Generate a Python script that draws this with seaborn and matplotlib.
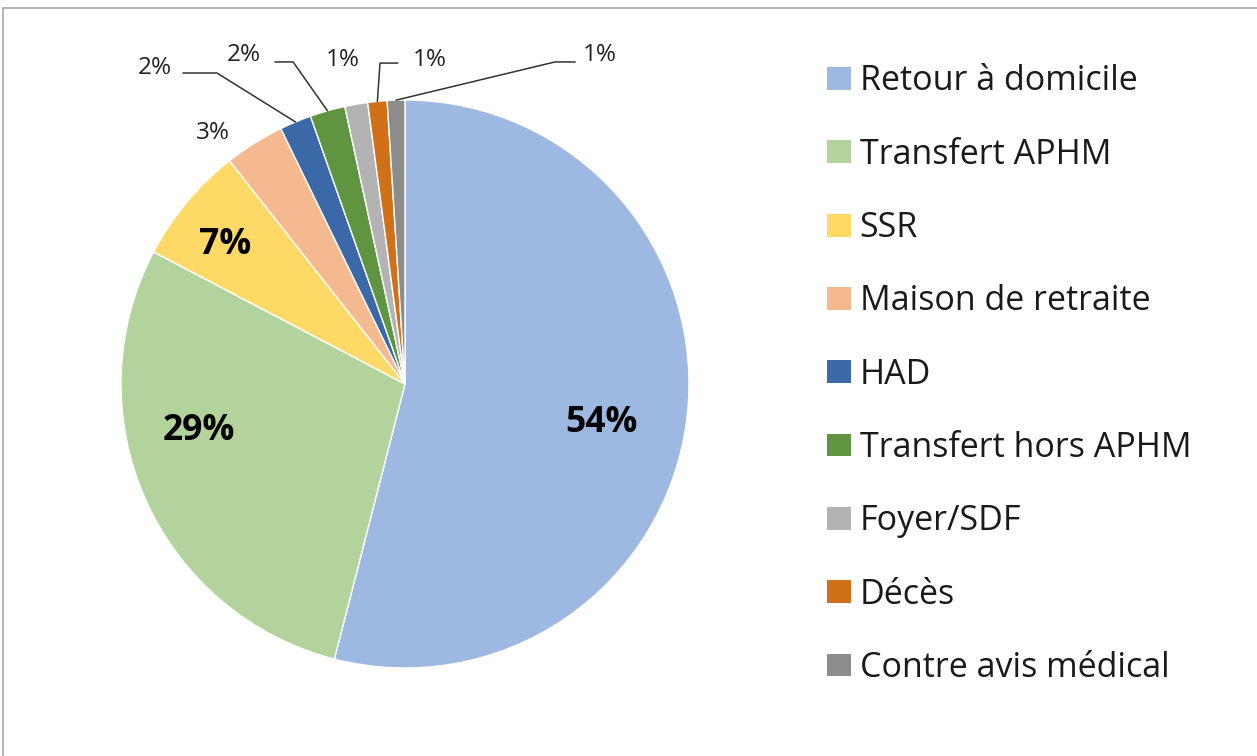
import numpy as np
import matplotlib
matplotlib.use("Agg")
import matplotlib.pyplot as plt
import seaborn as sns
from matplotlib.lines import Line2D

# categories and shares (percent)
categories = ["Retour à domicile", "Transfert APHM", "SSR", "Maison de retraite",
              "HAD", "Transfert hors APHM", "Foyer/SDF", "Décès", "Contre avis médical"]
shares = [54.0, 28.7, 6.7, 3.4, 1.8, 2.0, 1.3, 1.1, 1.0]
pct_labels = ["54%", "29%", "7%", "3%", "2%", "2%", "1%", "1%", "1%"]

colors = ["#9DB9E1", "#B2D39C", "#FFD966", "#F4B98F", "#3B69A8",
          "#5F9441", "#B3B3B3", "#D0711A", "#8C8C8C"]

sns.set_theme(style="white")
plt.rcParams["font.family"] = ["Open Sans", "DejaVu Sans"]

fig = plt.figure(figsize=(12.57, 7.56), dpi=100)
ax = fig.add_axes([0.05107, 0.04127, 0.54224, 0.90159])

wedges, _ = ax.pie(shares, colors=colors, startangle=90, counterclock=False,
                   radius=1.0, wedgeprops=dict(edgecolor="white", linewidth=1))
ax.set_xlim(-1.2, 1.2)
ax.set_ylim(-1.2, 1.2)
ax.set_aspect("equal")
ax.axis("off")

# label placement in pie units (radius = 1)
label_pos = [(0.690, -0.137), (-0.725, -0.165), (-0.634, 0.489), (-0.676, 0.884),
             (-0.880, 1.113), (-0.567, 1.158), (-0.218, 1.141), (0.088, 1.141),
             (0.687, 1.158)]
inside = [True, True, True, False, False, False, False, False, False]
# leader lines: start near text, elbow, then to wedge edge
leaders = {4: [(-0.782, 1.095), (-0.662, 1.095)],
           5: [(-0.458, 1.134), (-0.394, 1.134)],
           7: [(-0.025, 1.130), (-0.088, 1.130)],
           8: [(0.599, 1.134), (0.528, 1.134)]}

for i, (w, lab) in enumerate(zip(wedges, pct_labels)):
    x, y = label_pos[i]
    if inside[i]:
        ax.text(x, y, lab, ha="center", va="center", fontsize=25.5,
                fontweight="bold", color="black")
    else:
        ax.text(x, y, lab, ha="center", va="center", fontsize=17.5, color="#222222")
    if i in leaders:
        mid = np.deg2rad((w.theta1 + w.theta2) / 2)
        pts = leaders[i] + [(np.cos(mid), np.sin(mid))]
        xs, ys = zip(*pts)
        ax.plot(xs, ys, color="#333333", linewidth=1.1, clip_on=False)

leg = fig.legend(wedges, categories, loc="upper left",
                 bbox_to_anchor=(827 / 1257, 1 - 64.5 / 756), frameon=False,
                 fontsize=24.5, handlelength=0.7, handleheight=0.65,
                 handletextpad=0.26, labelspacing=1.155, borderpad=0,
                 borderaxespad=0)
for t in leg.get_texts():
    t.set_color("#1a1a1a")
for h in leg.legend_handles:
    h.set_edgecolor("none")

# outer chart border (only top and left visible in the crop)
fig.add_artist(Line2D([3 / 1257, 1], [1 - 8 / 756, 1 - 8 / 756],
                      transform=fig.transFigure, color="#A6A6A6", linewidth=1.2))
fig.add_artist(Line2D([3 / 1257, 3 / 1257], [0, 1 - 8 / 756],
                      transform=fig.transFigure, color="#A6A6A6", linewidth=1.2))

fig.savefig("out.png", dpi=100, facecolor="white")
